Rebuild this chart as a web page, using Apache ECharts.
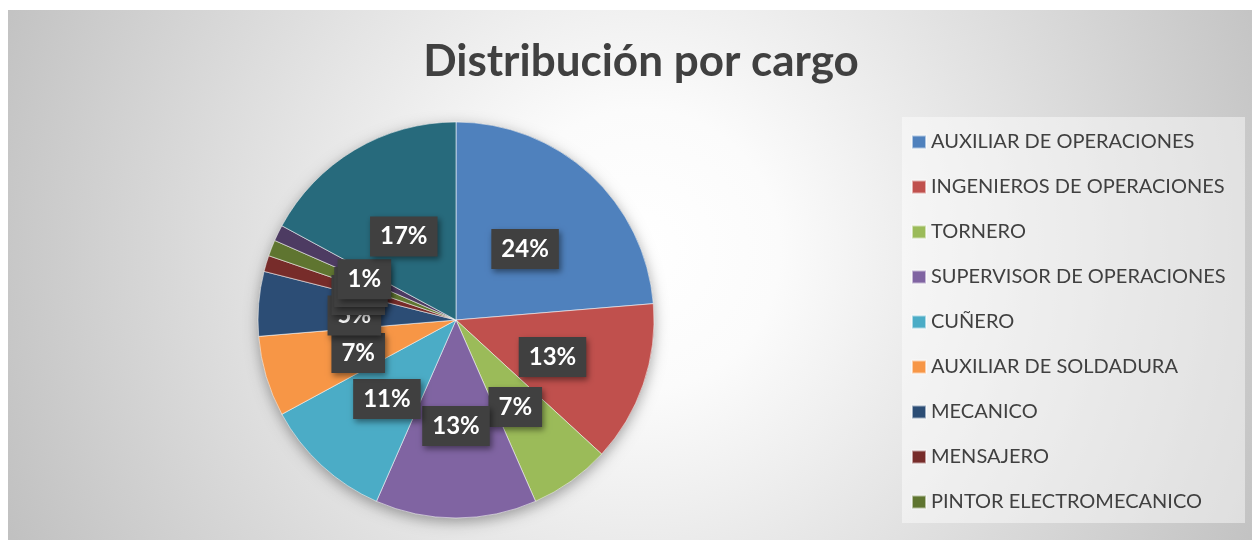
<!DOCTYPE html>
<html><head><meta charset="utf-8">
<script src="https://cdn.jsdelivr.net/npm/echarts@6/dist/echarts.min.js"></script>
<style>html,body{margin:0;padding:0;background:#fff}#c{width:1252px;height:540px}</style>
</head><body><div id="c"></div>
<script>
var titleText = 'Distribución por cargo';
var categories = ['AUXILIAR DE OPERACIONES','INGENIEROS DE OPERACIONES','TORNERO','SUPERVISOR DE OPERACIONES','CUÑERO','AUXILIAR DE SOLDADURA','MECANICO','MENSAJERO','PINTOR ELECTROMECANICO','OTRO CARGO A','OTRO CARGO B'];
var counts = [18,10,5,10,8,5,4,1,1,1,13];
var colors = ['#4F81BD','#C0504D','#9BBB59','#8064A2','#4BACC6','#F79646','#2C4D75','#772C2A','#5F7530','#4D3B62','#276A7C'];
var legendShown = categories.slice(0,9);

var data = categories.map(function(n,i){return {name:n,value:counts[i],itemStyle:{color:colors[i]}};});
var total = counts.reduce(function(a,b){return a+b;},0);

var chart = echarts.init(document.getElementById('c'));
chart.setOption({
  animation:false,
  graphic:[
    {type:'rect',z:-10,shape:{x:8,y:10,width:1244,height:530},
     style:{fill:{type:'radial',x:640,y:250,r:700,global:true,colorStops:[{offset:0,color:'#ffffff'},{offset:0.2,color:'#fbfbfb'},{offset:1,color:'#c0c0c0'}]}}},
    {type:'rect',z:-5,shape:{x:902,y:117,width:343,height:406},style:{fill:'rgba(255,255,255,0.45)'}}
  ],
  title:{text:titleText,left:636,top:35,textAlign:'center',
    textStyle:{fontFamily:'Lato',fontWeight:'bold',fontSize:44,color:'#404040'}},
  legend:{orient:'vertical',left:906,top:127,data:legendShown,itemWidth:14,itemHeight:13,itemGap:25,
    icon:'rect',selectedMode:false,
    textStyle:{fontFamily:'Lato',fontSize:20,color:'#404040',lineHeight:20}},
  series:[
    {type:'pie',silent:true,center:[456,320],radius:198,z:1,
     data:[{name:'_bg',value:total}],label:{show:false},labelLine:{show:false},
     itemStyle:{color:'#888',shadowBlur:14,shadowColor:'rgba(0,0,0,0.35)',shadowOffsetY:4}},
    {type:'pie',center:[456,320],radius:198,startAngle:90,clockwise:true,z:2,
     percentPrecision:0,avoidLabelOverlap:false,
     labelLayout:{hideOverlap:false},
     data:data,
     itemStyle:{borderColor:'rgba(255,255,255,0.55)',borderWidth:1},
     labelLine:{show:false},
     label:{show:true,position:'inside',formatter:'{d}%',offset:[0,4],
       fontFamily:'Lato',fontWeight:'bold',fontSize:24,color:'#ffffff',
       backgroundColor:'#404040',padding:[9,10,7,10],
       shadowColor:'rgba(0,0,0,0.45)',shadowBlur:6,shadowOffsetX:2,shadowOffsetY:3}}
  ]
});
</script></body></html>
